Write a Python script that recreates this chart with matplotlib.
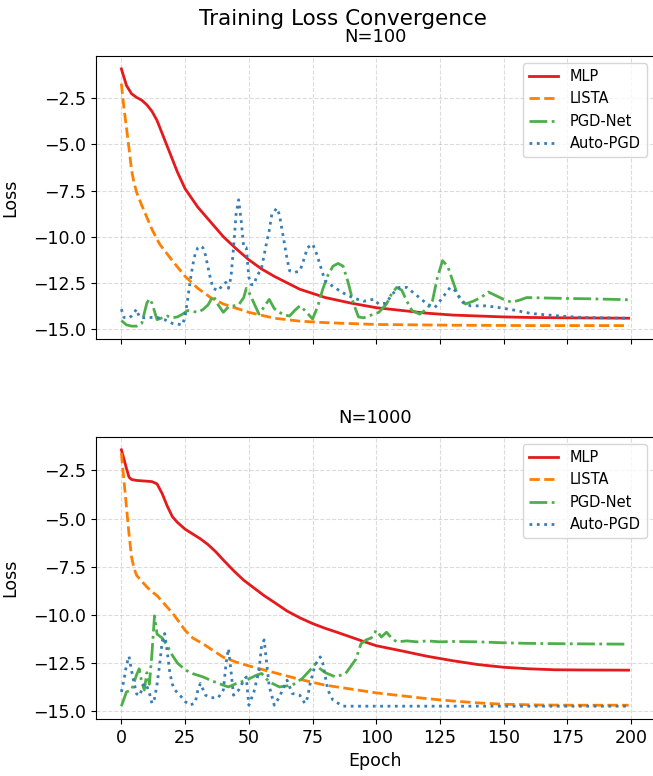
import numpy as np
import matplotlib
matplotlib.use("Agg")
import matplotlib.pyplot as plt
from matplotlib.ticker import MultipleLocator

# ---- N=100 ----
mlp100_ep = [0, 2, 4, 6, 8, 10, 12, 14, 16, 18, 20, 22, 25, 30, 35, 40, 45, 50, 55, 60, 70, 80, 90, 100,
             110, 120, 130, 140, 150, 160, 175, 199]
mlp100 = [-0.9, -1.8, -2.25, -2.45, -2.6, -2.85, -3.2, -3.7, -4.4, -5.1, -5.8, -6.5, -7.4, -8.4, -9.2, -10.0,
          -10.65, -11.25, -11.75, -12.15, -12.85, -13.3, -13.6, -13.85, -14.0, -14.15, -14.25, -14.3, -14.35,
          -14.38, -14.4, -14.42]

lista100_ep = [0, 1, 2, 3, 4, 5, 6, 8, 10, 12, 15, 20, 25, 30, 35, 40, 50, 60, 70, 80, 100, 130, 160, 199]
lista100 = [-1.7, -3.0, -4.1, -5.2, -6.4, -7.1, -7.6, -8.3, -8.95, -9.6, -10.4, -11.3, -12.15, -12.8, -13.3,
            -13.65, -14.1, -14.42, -14.58, -14.66, -14.76, -14.8, -14.82, -14.82]

pgd100_ep = [0, 2, 4, 6, 8, 10, 11, 12, 14, 16, 18, 20, 22, 24, 26, 28, 30, 32, 34, 36, 38, 40, 42, 44, 46,
             48, 49, 50, 52, 54, 56, 58, 60, 62, 64, 66, 68, 70, 72, 75, 77, 79, 81, 83, 85, 87, 89, 91, 93,
             95, 98, 101, 104, 106, 108, 110, 112, 114, 117, 120, 122, 124, 126, 128, 130, 132, 135, 138,
             141, 144, 147, 150, 153, 156, 159, 165, 175, 185, 199]
pgd100 = [-14.55, -14.78, -14.85, -14.85, -14.7, -13.6, -13.37, -13.6, -14.5, -14.4, -14.3, -14.4, -14.35,
          -14.2, -14.0, -14.05, -14.1, -13.95, -13.7, -13.2, -13.7, -14.1, -13.8, -13.75, -13.7, -13.3, -12.8,
          -13.0, -13.6, -14.2, -13.8, -13.4, -13.9, -14.1, -14.25, -14.3, -14.0, -13.75, -14.0, -14.46, -13.8,
          -12.85, -12.1, -11.6, -11.45, -11.6, -12.5, -13.6, -14.35, -14.4, -14.25, -14.1, -13.65, -13.1,
          -12.75, -12.9, -13.5, -14.0, -14.2, -13.9, -13.5, -12.2, -11.3, -11.6, -12.4, -13.2, -13.65, -13.5,
          -13.3, -13.0, -13.2, -13.4, -13.55, -13.45, -13.3, -13.32, -13.35, -13.37, -13.42]

apgd100_ep = [0, 1, 3, 4, 6, 7, 9, 11, 14, 17, 20, 24, 25, 26, 27, 28, 29, 30, 31, 32, 33, 34, 35, 36, 38,
              40, 41, 42, 43, 44, 45, 46, 47, 48, 49, 50, 51, 52, 53, 55, 57, 58, 59, 61, 62, 63, 65, 66, 68,
              70, 71, 73, 75, 76, 77, 79, 80, 83, 87, 91, 95, 99, 101, 104, 106, 109, 112, 116, 120, 123, 126,
              129, 131, 134, 137, 143, 148, 154, 161, 172, 181, 199]
apgd100 = [-13.93, -14.38, -14.4, -14.3, -13.93, -14.35, -14.4, -14.38, -14.38, -14.5, -14.7, -14.78, -14.3,
           -13.4, -12.4, -11.55, -10.9, -10.6, -10.5, -10.6, -11.0, -11.67, -12.3, -12.8, -12.93, -12.57,
           -12.48, -12.8, -12.2, -10.6, -8.77, -8.0, -9.13, -10.58, -10.6, -12.2, -12.6, -12.6, -12.2, -11.7,
           -10.3, -9.67, -8.8, -8.45, -8.8, -9.6, -11.2, -11.85, -11.94, -11.85, -11.5, -10.6, -10.4, -10.7,
           -11.1, -12.0, -12.39, -12.7, -13.05, -13.32, -13.5, -13.39, -13.66, -13.6, -13.15, -12.75, -12.75,
           -13.2, -13.66, -13.84, -13.3, -12.75, -12.93, -13.57, -13.75, -13.75, -13.84, -13.98, -14.17, -14.3,
           -14.38, -14.42]

# ---- N=1000 ----
mlp1000_ep = [0, 1, 2, 3, 4, 6, 8, 10, 12, 14, 16, 18, 20, 22, 25, 28, 31, 34, 37, 40, 44, 48, 52, 56, 60,
              65, 70, 75, 80, 85, 90, 95, 100, 110, 120, 130, 140, 150, 160, 170, 180, 199]
mlp1000 = [-1.43, -1.9, -2.4, -2.85, -2.97, -3.02, -3.04, -3.06, -3.08, -3.2, -3.7, -4.35, -4.9, -5.2,
           -5.55, -5.8, -6.05, -6.35, -6.72, -7.15, -7.7, -8.2, -8.6, -9.0, -9.35, -9.8, -10.15, -10.45,
           -10.7, -10.92, -11.15, -11.38, -11.6, -11.87, -12.15, -12.38, -12.58, -12.72, -12.8, -12.85,
           -12.86, -12.87]

lista1000_ep = [0, 1, 2, 3, 4, 5, 6, 8, 10, 12, 14, 16, 18, 20, 22, 25, 28, 32, 36, 40, 45, 50, 60, 70, 80,
                90, 100, 110, 120, 130, 140, 150, 165, 180, 199]
lista1000 = [-1.6, -3.0, -4.4, -5.8, -7.0, -7.6, -7.95, -8.25, -8.55, -8.8, -9.0, -9.3, -9.6, -9.9, -10.25,
             -10.8, -11.2, -11.5, -11.85, -12.2, -12.45, -12.65, -13.0, -13.35, -13.65, -13.85, -14.05, -14.2,
             -14.35, -14.47, -14.57, -14.64, -14.68, -14.69, -14.69]

pgd1000_ep = [0, 2, 4, 6, 7, 8, 9, 10, 11, 12, 13, 14, 15, 16, 18, 20, 22, 25, 28, 32, 36, 40, 42, 45, 49,
              53, 55, 58, 62, 67, 71, 74, 76, 78, 80, 84, 88, 92, 94, 96, 98, 100, 102, 104, 106, 108, 112,
              116, 120, 125, 130, 140, 150, 160, 175, 199]
pgd1000 = [-14.74, -14.0, -13.9, -13.1, -12.8, -13.5, -13.9, -13.0, -13.6, -12.0, -10.05, -11.0, -11.1,
           -11.2, -11.6, -12.1, -12.5, -12.85, -13.05, -13.22, -13.45, -13.65, -13.74, -13.57, -13.39, -13.13,
           -13.04, -13.48, -13.74, -13.65, -13.3, -12.87, -12.55, -12.8, -13.0, -13.22, -13.04, -12.3, -11.5,
           -11.3, -11.2, -10.8, -11.15, -10.9, -11.2, -11.4, -11.35, -11.4, -11.35, -11.4, -11.38, -11.4,
           -11.45, -11.48, -11.5, -11.52]

apgd1000_ep = [0, 1, 2, 3, 4, 5, 6, 7, 8, 9, 10, 11, 12, 13, 14, 15, 16, 17, 18, 19, 20, 21, 23, 25, 27, 29,
               30, 31, 33, 35, 38, 40, 41, 42, 43, 44, 46, 48, 49, 50, 52, 54, 55, 56, 57, 58, 60, 62, 65, 67,
               70, 72, 73, 74, 76, 78, 79, 80, 81, 83, 87, 100, 150, 199]
apgd1000 = [-14.0, -13.4, -12.6, -12.15, -12.9, -13.55, -14.1, -14.2, -13.9, -13.55, -13.7, -14.05, -14.6,
            -14.35, -13.6, -12.6, -11.4, -10.97, -11.9, -13.0, -13.6, -13.9, -14.17, -14.5, -14.69, -14.55,
            -13.9, -13.56, -14.17, -14.3, -14.3, -13.9, -12.6, -11.75, -12.9, -14.17, -13.9, -13.4, -13.22,
            -14.69, -14.0, -12.9, -11.6, -11.3, -12.5, -13.7, -14.69, -14.26, -13.39, -14.08, -14.17, -14.6,
            -14.3, -13.6, -12.6, -12.18, -12.5, -13.22, -13.9, -14.43, -14.74, -14.74, -14.74, -14.74]

labels = ["MLP", "LISTA", "PGD-Net", "Auto-PGD"]
colors = ["#e41a1c", "#ff7f00", "#4daf4a", "#377eb8"]
styles = ["-", "--", "-.", ":"]

W, H = 653, 776
fig = plt.figure(figsize=(W / 100, H / 100), dpi=100)
ax1 = fig.add_axes([96 / W, 1 - 339 / H, 558 / W, 283 / H])
ax2 = fig.add_axes([96 / W, 1 - 719 / H, 558 / W, 282 / H], sharex=ax1)


def draw(ax, series, title):
    for (ep, vals), lab, col, ls in zip(series, labels, colors, styles):
        ax.plot(ep, vals, ls, color=col, lw=2, label=lab)
    ax.set_title(title, fontsize=13, pad=10)
    ax.set_ylabel("Loss", fontsize=12.5)
    ax.yaxis.set_label_coords(-0.137, 0.5)
    ax.yaxis.set_major_locator(MultipleLocator(2.5))
    ax.tick_params(labelsize=12.5)
    ax.grid(True, linestyle="--", alpha=0.45)
    ax.legend(loc="upper right", fontsize=10.5)


draw(ax1, [(mlp100_ep, mlp100), (lista100_ep, lista100), (pgd100_ep, pgd100), (apgd100_ep, apgd100)], "N=100")
draw(ax2, [(mlp1000_ep, mlp1000), (lista1000_ep, lista1000), (pgd1000_ep, pgd1000), (apgd1000_ep, apgd1000)],
     "N=1000")
ax1.tick_params(labelbottom=False)
ax2.set_xlabel("Epoch", fontsize=12.5)

fig.suptitle("Training Loss Convergence", x=343 / W, y=1 - 25 / H, va="baseline", fontsize=15.5)

fig.savefig("out.png", dpi=100)
